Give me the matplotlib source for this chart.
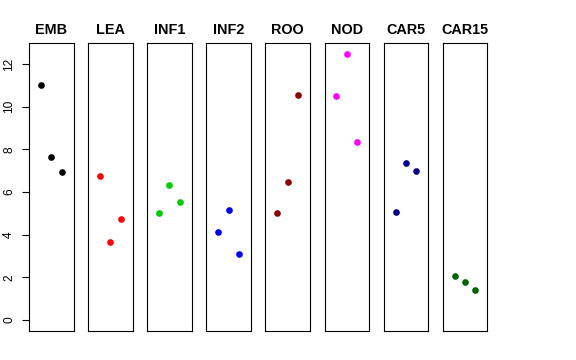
import matplotlib

matplotlib.use("Agg")
from matplotlib import pyplot as plt

plt.rcParams["font.family"] = ["Liberation Sans", "DejaVu Sans"]

GROUPS = ["EMB", "LEA", "INF1", "INF2", "ROO", "NOD", "CAR5", "CAR15"]
COLORS = ["black", "red", "#00cd00", "blue", "#8b0000", "magenta", "#00008b", "#006400"]

POSITIONS = [1, 2, 3]

EMB = [11.0, 7.66, 6.94]
LEA = [6.77, 3.66, 4.72]
INF1 = [5.03, 6.31, 5.53]
INF2 = [4.13, 5.14, 3.08]
ROO = [5.03, 6.45, 10.53]
NOD = [10.48, 12.49, 8.34]
CAR5 = [5.05, 7.36, 6.98]
CAR15 = [2.08, 1.78, 1.39]

VALUES = [EMB, LEA, INF1, INF2, ROO, NOD, CAR5, CAR15]

Y_TICKS = [0, 2, 4, 6, 8, 10, 12]

WIDTH_PX, HEIGHT_PX = 576, 360


def make_panel(fig, index):
    left = 29.0 + 59.1 * index
    ax = fig.add_axes([
        left / WIDTH_PX,
        (HEIGHT_PX - 331.0) / HEIGHT_PX,
        44.5 / WIDTH_PX,
        288.3 / HEIGHT_PX,
    ])
    ax.set_xlim(-0.16, 4.16)
    ax.set_ylim(-0.52, 13.0)
    for spine in ax.spines.values():
        spine.set_linewidth(0.8)
        spine.set_color("black")
    ax.set_xticks([])
    return ax


def plot_all(fig):
    for i, (name, color, vals) in enumerate(zip(GROUPS, COLORS, VALUES)):
        ax = make_panel(fig, i)
        ax.plot(POSITIONS, vals, "o", color=color, markersize=4.8, markeredgewidth=0)
        ax.set_title(name, fontsize=10.4, fontweight="bold", pad=6)
        if i == 0:
            ax.set_yticks(Y_TICKS)
            ax.tick_params(axis="y", length=5, width=0.8, pad=5, labelsize=8.6)
            for label in ax.get_yticklabels():
                label.set_rotation(90)
                label.set_va("center")
        else:
            ax.set_yticks([])


def main():
    fig = plt.figure(figsize=(WIDTH_PX / 100, HEIGHT_PX / 100), dpi=100)
    plot_all(fig)
    fig.savefig("out.png", dpi=100)


if __name__ == "__main__":
    main()
